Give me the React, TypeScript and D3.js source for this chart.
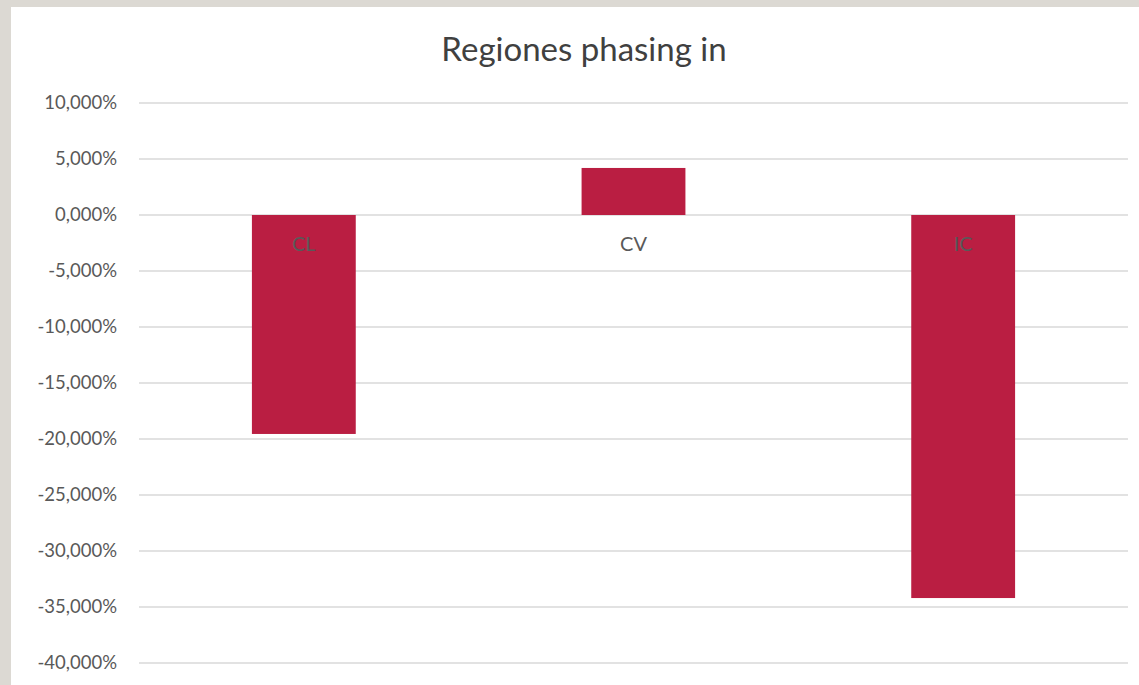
import React, { useEffect, useRef } from 'react';
import * as d3 from 'd3';

const categories = ['CL', 'CV', 'IC'];
const values = [-19.55, 4.2, -34.2];
const tickValues = [10, 5, 0, -5, -10, -15, -20, -25, -30, -35, -40];
const title = 'Regiones phasing in';

const W = 1139;
const H = 685;

const App = () => {
  const svgRef = useRef<SVGSVGElement | null>(null);

  useEffect(() => {
    const svg = d3.select(svgRef.current);
    svg.selectAll('*').remove();

    const font = 'Lato, "Open Sans", sans-serif';
    const margin = { top: 103, right: 11, bottom: 22, left: 139 };

    // grey frame + white panel
    svg.append('rect').attr('width', W).attr('height', H).attr('fill', '#dcd9d3');
    svg.append('rect').attr('x', 11).attr('y', 7).attr('width', W - 11).attr('height', H - 7).attr('fill', '#fff');

    const x = d3.scaleBand()
      .domain(categories)
      .range([margin.left, W - margin.right])
      .paddingInner(0.685)
      .paddingOuter(0.3425);

    const y = d3.scaleLinear()
      .domain([-40, 10])
      .range([H - margin.bottom, margin.top]);

    // spanish style: 10,000%  with plain hyphen for negatives
    const fmt = (v: number) => (v < 0 ? '-' : '') + Math.abs(v).toFixed(3).replace('.', ',') + '%';

    // gridlines
    svg.append('g')
      .selectAll('line')
      .data(tickValues)
      .join('line')
      .attr('x1', margin.left)
      .attr('x2', W - margin.right)
      .attr('y1', d => y(d))
      .attr('y2', d => y(d))
      .attr('stroke', '#d9d9d9')
      .attr('stroke-width', 1.5);

    // y tick labels
    svg.append('g')
      .selectAll('text')
      .data(tickValues)
      .join('text')
      .attr('x', 117)
      .attr('y', d => y(d))
      .attr('dy', '0.35em')
      .attr('text-anchor', 'end')
      .attr('fill', '#595959')
      .style('font', `400 18.5px ${font}`)
      .text(d => fmt(d));

    // bars
    svg.append('g')
      .selectAll('rect')
      .data(values)
      .join('rect')
      .attr('x', (d, i) => x(categories[i])!)
      .attr('width', x.bandwidth())
      .attr('y', d => y(Math.max(0, d)))
      .attr('height', d => Math.abs(y(d) - y(0)))
      .attr('fill', '#ba1e42');

    // category labels at zero line
    svg.append('g')
      .selectAll('text')
      .data(categories)
      .join('text')
      .attr('x', d => x(d)! + x.bandwidth() / 2)
      .attr('y', y(0) + 36)
      .attr('text-anchor', 'middle')
      .attr('fill', '#595959')
      .style('font', `400 20px ${font}`)
      .text(d => d);

    // title
    svg.append('text')
      .attr('x', 584)
      .attr('y', 61)
      .attr('text-anchor', 'middle')
      .attr('fill', '#404040')
      .style('font', `400 33px ${font}`)
      .text(title);
  }, []);

  return (
    <div style={{ position: 'absolute', left: 0, top: 0 }}>
      <svg ref={svgRef} width={W} height={H} style={{ display: 'block' }}></svg>
    </div>
  );
};

export default App;
